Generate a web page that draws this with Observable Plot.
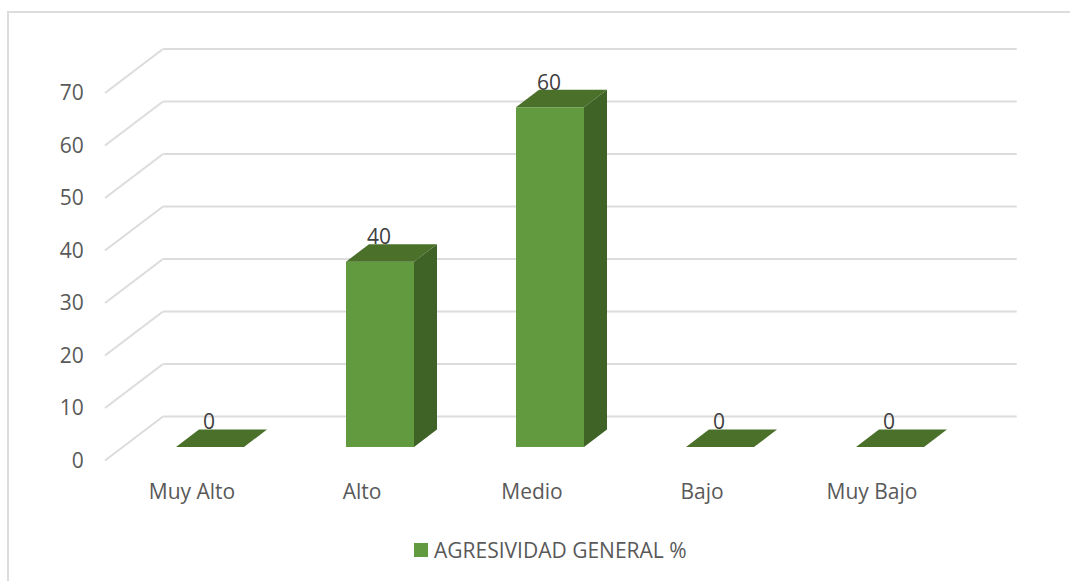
<!DOCTYPE html>
<html>
<head>
<meta charset="utf-8">
<script src="https://cdn.jsdelivr.net/npm/d3@7"></script>
<script src="https://cdn.jsdelivr.net/npm/@observablehq/plot@0.6"></script>
<style>
  html, body { margin: 0; padding: 0; background: #fff; }
  #page { position: relative; width: 1070px; height: 581px; overflow: hidden; font-family: "Open Sans", sans-serif; }
  #border { position: absolute; left: 6.5px; top: 11px; right: -4px; bottom: -4px; border: 2px solid #dcdcdc; }
  #chart { position: absolute; left: 0; top: 0; }
  #legend { position: absolute; left: 414px; top: 534.5px; height: 30px; display: flex; align-items: center; color: #595959; font-size: 21px; white-space: nowrap; }
  #legend i { display: block; width: 14px; height: 14px; margin-right: 6px; background: #629a3f; }
</style>
</head>
<body>
<div id="page">
  <div id="border"></div>
  <div id="chart"></div>
  <div id="legend"><i></i><span id="legend-text"></span></div>
</div>
<script>
const categories = ["Muy Alto", "Alto", "Medio", "Bajo", "Muy Bajo"];
const values = [0, 35.3, 64.7, 0, 0];
const valueLabels = ["0", "40", "60", "0", "0"];
const yTicks = [0, 10, 20, 30, 40, 50, 60, 70];
const seriesName = "AGRESIVIDAD GENERAL %";

const colors = { front: "#629a3f", top: "#4a702a", side: "#3f6327", grid: "#dcdcdc", axis: "#595959", label: "#404040" };
const wall = { left: 105, dx: 58, dy: -44, insetLeft: 39, insetRight: -40 };
const depth = { planeDy: -13, dx: 23, dy: -17.5 };

const rows = categories.map((c, i) => ({ c, v: values[i], label: valueLabels[i] }));

// Adds the top and side faces of the column to each bar, from the scaled bar values.
function extrude(index, scales, channels, dims, ctx, next) {
  const g = next(index, scales, channels, dims, ctx);
  const w = scales.x.bandwidth();
  for (const i of index) {
    const xl = channels.x[i], xr = xl + w, yb = channels.y1[i], yt = channels.y2[i];
    const { dx, dy } = depth;
    const top = [[xl, yt], [xl + dx, yt + dy], [xr + dx, yt + dy], [xr, yt]];
    const side = [[xr, yt], [xr + dx, yt + dy], [xr + dx, yb + dy], [xr, yb]];
    for (const [pts, fill] of [[top, colors.top], [side, colors.side]]) {
      if (pts === side && yb === yt) continue;
      d3.select(g).append("path").attr("d", "M" + pts.join("L") + "Z").attr("fill", fill).attr("stroke", "none");
    }
  }
  return g;
}

// Turns the wall rules into the diagonal floor-side lines of the left wall.
function diagonal(index, scales, channels, dims, ctx, next) {
  const g = next(index, scales, channels, dims, ctx);
  d3.select(g).selectAll("line")
    .attr("x1", wall.left)
    .attr("x2", wall.left + wall.dx)
    .attr("y2", function () { return +this.getAttribute("y1") + wall.dy; });
  return g;
}

const plot = Plot.plot({
  width: 1070,
  height: 530,
  marginLeft: 124.25,
  marginRight: 93.25,
  marginTop: 92.5,
  marginBottom: 70,
  style: { fontFamily: '"Open Sans", sans-serif', fontSize: "21px", background: "transparent", color: colors.axis, overflow: "visible" },
  x: { type: "band", domain: categories, paddingInner: 0.6, paddingOuter: 0.3, align: 0.5, label: null },
  y: { domain: [0, 70], label: null },
  marks: [
    Plot.ruleY(yTicks, { y: d => d, dy: wall.dy, insetLeft: wall.insetLeft, insetRight: wall.insetRight, stroke: colors.grid, strokeWidth: 2 }),
    Plot.ruleY(yTicks, { y: d => d, stroke: colors.grid, strokeWidth: 2, render: diagonal }),
    Plot.axisY({ ticks: yTicks, tickSize: 0, tickPadding: 41, dy: 0.5, fill: colors.axis, label: null }),
    Plot.axisX({ tickSize: 0, tickPadding: 23.5, dx: -18.5, fill: colors.axis, label: null }),
    Plot.barY(rows, { x: "c", y1: () => 0, y2: "v", fill: colors.front, dy: depth.planeDy, render: extrude }),
    Plot.text(rows, { x: "c", y: "v", text: "label", dy: depth.planeDy - 25, dx: -1.5, fill: colors.label, fontSize: 21 })
  ]
});
document.getElementById("chart").appendChild(plot);
document.getElementById("legend-text").textContent = seriesName;
</script>
</body>
</html>
